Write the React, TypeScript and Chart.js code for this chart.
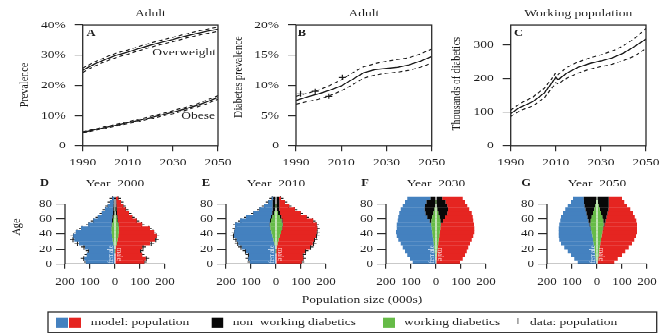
import React, { useEffect, useRef } from 'react';
import { Chart, registerables } from 'chart.js';

Chart.register(...registerables);

// ---------- data ----------
const years = [1990, 1995, 2000, 2005, 2010, 2015, 2020, 2025, 2030, 2035, 2040, 2045, 2050];
const overweight = [25.0, 27.0, 28.6, 30.0, 31.0, 32.2, 33.3, 34.3, 35.2, 36.2, 37.1, 37.9, 38.6];
const overweightHi = [25.7, 27.7, 29.3, 30.7, 31.7, 32.9, 34.0, 35.0, 35.9, 36.9, 37.8, 38.6, 39.3];
const overweightLo = [24.3, 26.3, 27.9, 29.3, 30.3, 31.5, 32.6, 33.6, 34.5, 35.5, 36.4, 37.2, 37.9];
const obese = [4.4, 5.2, 6.0, 6.8, 7.6, 8.4, 9.3, 10.2, 11.1, 12.1, 13.2, 14.5, 16.0];
const obeseHi = [4.6, 5.4, 6.3, 7.1, 7.9, 8.8, 9.7, 10.6, 11.6, 12.6, 13.7, 15.1, 16.6];
const obeseLo = [4.2, 5.0, 5.7, 6.5, 7.3, 8.0, 8.9, 9.8, 10.6, 11.6, 12.7, 13.9, 15.4];

const diabetes = [7.5, 8.1, 8.6, 9.2, 9.9, 11.0, 12.1, 12.6, 12.8, 13.0, 13.4, 14.0, 14.8];
const diabetesHi = [8.2, 8.7, 9.2, 10.0, 10.9, 12.1, 13.1, 13.6, 14.0, 14.3, 14.6, 15.2, 16.0];
const diabetesLo = [6.9, 7.3, 7.7, 8.3, 9.1, 10.1, 11.2, 11.7, 12.0, 12.2, 12.5, 13.0, 13.7];
const surveyYears = [1992, 1998.5, 2004.5, 2010.5];
const surveyPrevalence = [8.6, 9.0, 8.2, 11.3];

const yearsC = [1990, 1994, 2000, 2005, 2009, 2010, 2011, 2015, 2020, 2025, 2030, 2035, 2040, 2045, 2050];
const workers = [96, 114, 132, 158, 194, 204, 197, 217, 234, 245, 253, 262, 276, 296, 318];
const workersHi = [106, 125, 146, 172, 207, 218, 212, 234, 250, 262, 271, 282, 298, 320, 350];
const workersLo = [87, 104, 119, 144, 178, 188, 184, 202, 217, 228, 236, 243, 254, 268, 290];

const yearTicks = [1990, 2010, 2030, 2050];
const yearTickLabels = ['1990', '2010', '2030', '2050'];
const ticksA = [0, 10, 20, 30, 40];
const labelsA = ['0', '10%', '20%', '30%', '40%'];
const ticksB = [0, 5, 10, 15, 20];
const labelsB = ['0', '5%', '10%', '15%', '20%'];
const ticksC = [0, 100, 200, 300];
const labelsC = ['0', '100', '200', '300'];

const ageGroups = [2.5, 7.5, 12.5, 17.5, 22.5, 27.5, 32.5, 37.5, 42.5, 47.5, 52.5, 57.5, 62.5, 67.5, 72.5, 77.5, 82.5, 87.5];
const popTicks = [-200, -100, 0, 100, 200];
const popTickLabels = ['200', '100', '0', '100', '200'];
const ageTicks = [0, 20, 40, 60, 80];
const ageTickLabels = ['0', '20', '40', '60', '80'];

// Year 2000
const femaleTot2000 = [117, 123, 113, 104, 120, 144, 163, 167, 157, 136, 107, 87, 69, 53, 40, 29, 20, 11];
const maleTot2000 = [117, 123, 109, 100, 109, 140, 160, 167, 157, 140, 109, 87, 69, 56, 43, 33, 24, 13];
const femaleWork2000 = [0, 0, 0, 1, 3, 6, 9, 12, 13, 13, 11, 8, 5, 2, 0, 0, 0, 0];
const femaleNonWork2000 = [0, 0, 0, 0, 0, 0, 0, 0, 0, 1, 2, 4, 5, 6, 7, 6, 5, 4];
const maleWork2000 = [0, 0, 0, 1, 3, 7, 10, 13, 15, 15, 13, 9, 6, 3, 1, 0, 0, 0];
const maleNonWork2000 = [0, 0, 0, 0, 0, 0, 0, 0, 0, 1, 2, 3, 4, 5, 6, 6, 5, 4];
const femaleData2000 = [112, 125, 110, 105, 124, 150, 168, 166, 152, 132, 104, 85, 66, 50, 38, 27, 18, 10];
const maleData2000 = [115, 125, 106, 102, 112, 145, 163, 165, 152, 135, 106, 85, 67, 54, 42, 31, 22, 12];

// Year 2010
const femaleTot2010 = [104, 111, 108, 120, 137, 151, 157, 168, 167, 164, 164, 144, 120, 91, 67, 48, 31, 17];
const maleTot2010 = [103, 109, 107, 116, 136, 147, 152, 160, 163, 165, 163, 149, 123, 99, 76, 53, 36, 20];
const femaleWork2010 = [0, 0, 0, 1, 3, 6, 10, 14, 18, 22, 23, 20, 14, 7, 3, 1, 0, 0];
const femaleNonWork2010 = [0, 0, 0, 0, 0, 0, 0, 0, 0, 1, 2, 4, 6, 8, 10, 12, 13, 11];
const maleWork2010 = [0, 0, 0, 1, 3, 6, 10, 15, 20, 24, 26, 22, 15, 8, 3, 1, 0, 0];
const maleNonWork2010 = [0, 0, 0, 0, 0, 0, 0, 0, 0, 1, 2, 4, 6, 8, 10, 12, 13, 12];
const femaleData2010 = [102, 110, 110, 122, 140, 153, 160, 170, 165, 162, 160, 140, 116, 88, 64, 45, 29, 15];
const maleData2010 = [101, 108, 108, 118, 138, 150, 154, 162, 164, 163, 160, 146, 120, 96, 73, 50, 33, 18];

// Year 2030
const femaleTot2030 = [93, 104, 115, 124, 133, 141, 151, 157, 160, 157, 157, 153, 151, 147, 141, 133, 124, 115];
const maleTot2030 = [96, 107, 116, 123, 129, 136, 143, 149, 153, 153, 152, 149, 147, 143, 133, 125, 116, 107];
const femaleWork2030 = [2, 3, 4, 5, 7, 9, 11, 13, 15, 17, 19, 18, 15, 10, 6, 3, 1, 0];
const femaleNonWork2030 = [0, 0, 0, 0, 0, 0, 0, 0, 0, 0, 1, 7, 20, 32, 39, 41, 37, 22];
const maleWork2030 = [2, 3, 4, 5, 7, 9, 11, 13, 15, 17, 18, 17, 14, 9, 5, 3, 1, 0];
const maleNonWork2030 = [0, 0, 0, 0, 0, 0, 0, 0, 0, 0, 2, 11, 22, 36, 43, 42, 37, 25];

// Year 2050
const femaleTot2050 = [77, 91, 104, 117, 131, 144, 151, 153, 153, 153, 151, 147, 144, 136, 127, 117, 104, 96];
const maleTot2050 = [69, 83, 100, 113, 127, 140, 149, 156, 160, 160, 160, 157, 151, 144, 133, 120, 109, 100];
const femaleWork2050 = [3, 5, 7, 9, 11, 13, 16, 18, 21, 24, 26, 25, 21, 16, 11, 7, 4, 2];
const femaleNonWork2050 = [0, 0, 0, 0, 0, 0, 0, 0, 0, 1, 4, 9, 17, 26, 35, 43, 48, 51];
const maleWork2050 = [3, 5, 7, 9, 11, 13, 16, 18, 21, 24, 26, 25, 21, 16, 11, 7, 4, 2];
const maleNonWork2050 = [0, 0, 0, 0, 0, 0, 0, 0, 0, 1, 4, 9, 17, 26, 35, 40, 43, 45];

// ---------- styling ----------
const S = 0.78; // vertical squeeze of the reference picture
const PAGE_W = 670;
const PAGE_H = Math.round(336 / S);
const FONT = "'Liberation Serif', 'Times New Roman', Times, serif";
const INK = '#1c1c1c';
const BLUE = '#4481bf';
const RED = '#e52521';
const GREEN = '#66bb47';
const BLACK = '#080808';

Chart.defaults.font.family = FONT;
Chart.defaults.color = INK;

const yr = (v: number) => v / S;

type TextSpec = {
  t: string; x: number; y: number; size?: number; bold?: boolean;
  rot?: number; color?: string; align?: CanvasTextAlign; data?: boolean;
};
type RectSpec = { x: number; y: number; w: number; h: number; fill?: string; stroke?: string };

function makeDeco(spec: { box?: boolean; rAxes?: boolean; texts?: TextSpec[]; rects?: RectSpec[] }) {
  return {
    id: 'deco',
    afterDraw(chart: any) {
      const ctx: CanvasRenderingContext2D = chart.ctx;
      const ca = chart.chartArea;
      ctx.save();
      ctx.strokeStyle = '#2a2a2a';
      if (spec.box) {
        ctx.lineWidth = 1.3;
        ctx.strokeRect(ca.left, ca.top, ca.right - ca.left, ca.bottom - ca.top);
      }
      if (spec.rAxes) {
        const xs = chart.scales.x, ys = chart.scales.y;
        ctx.lineWidth = 1.3;
        ctx.beginPath();
        ctx.moveTo(xs.getPixelForValue(popTicks[0]), ca.bottom);
        ctx.lineTo(xs.getPixelForValue(popTicks[popTicks.length - 1]), ca.bottom);
        ctx.moveTo(ca.left, ys.getPixelForValue(ageTicks[0]));
        ctx.lineTo(ca.left, ys.getPixelForValue(ageTicks[ageTicks.length - 1]));
        ctx.stroke();
      }
      for (const r of spec.rects || []) {
        if (r.fill) { ctx.fillStyle = r.fill; ctx.fillRect(r.x, yr(r.y), r.w, yr(r.h)); }
        if (r.stroke) { ctx.strokeStyle = r.stroke; ctx.lineWidth = 1.3; ctx.strokeRect(r.x, yr(r.y), r.w, yr(r.h)); }
      }
      for (const t of spec.texts || []) {
        let x = t.x, y = yr(t.y);
        if (t.data) { x = chart.scales.x.getPixelForValue(t.x); y = chart.scales.y.getPixelForValue(t.y); }
        ctx.save();
        ctx.font = `${t.bold ? 'bold ' : 'normal '}${t.size || 13.5}px ${FONT}`;
        ctx.fillStyle = t.color || INK;
        ctx.textAlign = t.align || 'center';
        ctx.textBaseline = 'middle';
        if (t.rot) {
          ctx.translate(x, y);
          ctx.rotate(t.rot);
          ctx.fillText(t.t, 0, 0);
        } else {
          ctx.fillText(t.t, x, y);
        }
        ctx.restore();
      }
      ctx.restore();
    },
  };
}

const pts = (xs: number[], ys: number[]) => xs.map((x, i) => ({ x, y: ys[i] }));
const solid = (label: string, xs: number[], ys: number[]) => ({
  label, data: pts(xs, ys), showLine: true, borderColor: INK, borderWidth: 1.4, pointRadius: 0, fill: false,
});
const dashed = (label: string, xs: number[], ys: number[]) => ({
  label, data: pts(xs, ys), showLine: true, borderColor: INK, borderWidth: 1.2, borderDash: [4, 3], pointRadius: 0, fill: false,
});

function linePanel(p: {
  left: number; right: number; yMax: number; yTicks: number[]; yLabels: string[]; datasets: any[]; texts: TextSpec[];
}) {
  const WY = 45, HX = 40;
  const top = yr(25), bottom = yr(145.7);
  return {
    type: 'scatter',
    data: { datasets: p.datasets },
    options: {
      responsive: false, animation: false, devicePixelRatio: 1,
      layout: { padding: { left: p.left - WY, right: PAGE_W - p.right, top, bottom: PAGE_H - bottom - HX } },
      plugins: { legend: { display: false }, tooltip: { enabled: false } },
      scales: {
        x: {
          type: 'linear', min: yearTicks[0], max: yearTicks[yearTicks.length - 1], offset: false,
          afterFit: (s: any) => { s.height = HX; },
          afterBuildTicks: (s: any) => { s.ticks = yearTicks.map((v) => ({ value: v })); },
          ticks: {
            font: { size: 13.5, family: FONT }, color: INK, padding: 6.5, maxRotation: 0, autoSkip: false,
            callback: (v: number) => { const i = yearTicks.indexOf(v); return i >= 0 ? yearTickLabels[i] : ''; },
          },
          grid: { drawOnChartArea: false, drawTicks: true, tickLength: 7.5, color: '#2a2a2a', lineWidth: 1.2, offset: false },
          border: { display: false },
        },
        y: {
          type: 'linear', min: 0, max: p.yMax, offset: false,
          afterFit: (s: any) => { s.width = WY; },
          afterBuildTicks: (s: any) => { s.ticks = p.yTicks.map((v) => ({ value: v })); },
          ticks: {
            font: { size: 13.5, family: FONT }, color: INK, padding: 9, autoSkip: false,
            callback: (v: number) => { const i = p.yTicks.indexOf(v); return i >= 0 ? p.yLabels[i] : ''; },
          },
          grid: { drawOnChartArea: false, drawTicks: true, tickLength: 8, color: '#2a2a2a', lineWidth: 1.2 },
          border: { display: false },
        },
      },
    },
    plugins: [makeDeco({ box: true, texts: p.texts })],
  };
}

function pyramidPanel(p: {
  left: number; right: number;
  fTot: number[]; fG: number[]; fB: number[]; mTot: number[]; mG: number[]; mB: number[];
  fData?: number[]; mData?: number[]; texts: TextSpec[]; rects?: RectSpec[];
}) {
  const WY = 40, HX = 40;
  const top = yr(195), bottom = yr(264);
  const bar = (label: string, vals: number[], color: string) => ({
    type: 'bar', label, indexAxis: 'y', stack: 'pop',
    data: ageGroups.map((a, i) => ({ x: vals[i], y: a })),
    backgroundColor: color, borderWidth: 0, barPercentage: 1.08, categoryPercentage: 1,
  });
  const datasets: any[] = [
    bar('female working diabetics', p.fG.map((v) => -v), GREEN),
    bar('female non working diabetics', p.fB.map((v) => -v), BLACK),
    bar('female population', p.fTot.map((v, i) => -(v - p.fG[i] - p.fB[i])), BLUE),
    bar('male working diabetics', p.mG, GREEN),
    bar('male non working diabetics', p.mB, BLACK),
    bar('male population', p.mTot.map((v, i) => v - p.mG[i] - p.mB[i]), RED),
  ];
  const cross = (label: string, vals: number[]) => ({
    type: 'scatter', label, data: ageGroups.map((a, i) => ({ x: vals[i], y: a })),
    showLine: false, pointStyle: 'cross', pointRadius: 3, borderColor: INK, backgroundColor: INK, borderWidth: 1.1,
  });
  if (p.fData && p.mData) {
    datasets.push(cross('data: population female', p.fData.map((v) => -v)));
    datasets.push(cross('data: population male', p.mData));
  }
  return {
    type: 'bar',
    data: { datasets },
    options: {
      responsive: false, animation: false, devicePixelRatio: 1,
      layout: { padding: { left: p.left - WY, right: PAGE_W - p.right, top, bottom: PAGE_H - bottom - HX } },
      plugins: { legend: { display: false }, tooltip: { enabled: false } },
      scales: {
        x: {
          type: 'linear', min: popTicks[0], max: popTicks[popTicks.length - 1], stacked: true, offset: false,
          afterFit: (s: any) => { s.height = HX; },
          afterBuildTicks: (s: any) => { s.ticks = popTicks.map((v) => ({ value: v })); },
          ticks: {
            font: { size: 13, family: FONT }, color: INK, padding: 8.5, maxRotation: 0, autoSkip: false,
            callback: (v: number) => { const i = popTicks.indexOf(v); return i >= 0 ? popTickLabels[i] : ''; },
          },
          grid: { drawOnChartArea: false, drawTicks: true, tickLength: 6.4, color: '#2a2a2a', lineWidth: 1.2, offset: false },
          border: { display: false },
        },
        y: {
          type: 'linear', min: 0, max: 92, offset: false,
          afterFit: (s: any) => { s.width = WY; },
          afterBuildTicks: (s: any) => { s.ticks = ageTicks.map((v) => ({ value: v })); },
          ticks: {
            font: { size: 13, family: FONT }, color: INK, padding: 4, autoSkip: false,
            callback: (v: number) => { const i = ageTicks.indexOf(v); return i >= 0 ? ageTickLabels[i] : ''; },
          },
          grid: { drawOnChartArea: false, drawTicks: true, tickLength: 9, color: '#2a2a2a', lineWidth: 1.2, offset: false },
          border: { display: false },
        },
      },
    },
    plugins: [makeDeco({ rAxes: true, texts: p.texts, rects: p.rects })],
  };
}

const sexLabels = (): TextSpec[] => [
  { t: 'female', x: -17, y: 13, data: true, rot: -Math.PI / 2, size: 8.5, color: '#d6e6f6' },
  { t: 'male', x: 16, y: 13, data: true, rot: Math.PI / 2, size: 8.5, color: '#fcd2d2' },
];

const configs = [
  () => linePanel({
    left: 82.7, right: 218, yMax: 40, yTicks: ticksA, yLabels: labelsA,
    datasets: [
      dashed('overweight upper', years, overweightHi), solid('Overweight', years, overweight), dashed('overweight lower', years, overweightLo),
      dashed('obese upper', years, obeseHi), solid('Obese', years, obese), dashed('obese lower', years, obeseLo),
    ],
    texts: [
      { t: 'Adult', x: 150.3, y: 14 },
      { t: 'A', x: 91, y: 33.5, bold: true, size: 12.5 },
      { t: 'Overweight', x: 216, y: 52.7, align: 'right' },
      { t: 'Obese', x: 215, y: 116, align: 'right' },
      { t: 'Prevalence', x: 25, y: 85, rot: -Math.PI / 2, size: 13 },
    ],
  }),
  () => linePanel({
    left: 296, right: 431.7, yMax: 20, yTicks: ticksB, yLabels: labelsB,
    datasets: [
      dashed('upper', years, diabetesHi), solid('Diabetes prevalence', years, diabetes), dashed('lower', years, diabetesLo),
      { label: 'survey', data: pts(surveyYears, surveyPrevalence), showLine: false, pointStyle: 'cross', pointRadius: 3.5, borderColor: INK, borderWidth: 1.2 },
    ],
    texts: [
      { t: 'Adult', x: 364, y: 14 },
      { t: 'B', x: 302, y: 33.5, bold: true, size: 12.5 },
      { t: 'Diabetes prevalence', x: 238.5, y: 77, rot: -Math.PI / 2, size: 13 },
    ],
  }),
  () => linePanel({
    left: 510.7, right: 646, yMax: 360, yTicks: ticksC, yLabels: labelsC,
    datasets: [
      dashed('upper', yearsC, workersHi), solid('Thousands of diabetics', yearsC, workers), dashed('lower', yearsC, workersLo),
    ],
    texts: [
      { t: 'Working population', x: 578.3, y: 14 },
      { t: 'C', x: 518.5, y: 33.5, bold: true, size: 12.5 },
      { t: 'Thousands of diabetics', x: 457, y: 84, rot: -Math.PI / 2, size: 13 },
    ],
  }),
  () => pyramidPanel({
    left: 65, right: 165,
    fTot: femaleTot2000, fG: femaleWork2000, fB: femaleNonWork2000,
    mTot: maleTot2000, mG: maleWork2000, mB: maleNonWork2000,
    fData: femaleData2000, mData: maleData2000,
    texts: [
      { t: 'D', x: 44.5, y: 183.3, bold: true, size: 12.5 },
      { t: 'Year  2000', x: 115, y: 183.3 },
      { t: 'Age', x: 17, y: 227, rot: -Math.PI / 2, size: 13 },
      ...sexLabels(),
      { t: 'Population size (000s)', x: 362, y: 300 },
      { t: 'model: population', x: 90.7, y: 322.5, align: 'left' },
      { t: 'non  working diabetics', x: 232.7, y: 322.5, align: 'left' },
      { t: 'working diabetics', x: 404, y: 322.5, align: 'left' },
      { t: '+', x: 518, y: 322, size: 14 },
      { t: 'data: population', x: 530, y: 322.5, align: 'left' },
    ],
    rects: [
      { x: 48, y: 312, w: 608.7, h: 20.5, stroke: '#2a2a2a' },
      { x: 56, y: 318, w: 12, h: 9.5, fill: BLUE },
      { x: 69, y: 318, w: 12, h: 9.5, fill: RED },
      { x: 211.7, y: 318, w: 11.5, h: 9.5, fill: BLACK },
      { x: 383, y: 318, w: 12, h: 9.5, fill: GREEN },
    ],
  }),
  () => pyramidPanel({
    left: 226, right: 326,
    fTot: femaleTot2010, fG: femaleWork2010, fB: femaleNonWork2010,
    mTot: maleTot2010, mG: maleWork2010, mB: maleNonWork2010,
    fData: femaleData2010, mData: maleData2010,
    texts: [
      { t: 'E', x: 206, y: 183.3, bold: true, size: 12.5 },
      { t: 'Year  2010', x: 276, y: 183.3 },
      ...sexLabels(),
    ],
  }),
  () => pyramidPanel({
    left: 386, right: 486,
    fTot: femaleTot2030, fG: femaleWork2030, fB: femaleNonWork2030,
    mTot: maleTot2030, mG: maleWork2030, mB: maleNonWork2030,
    texts: [
      { t: 'F', x: 365, y: 183.3, bold: true, size: 12.5 },
      { t: 'Year  2030', x: 436, y: 183.3 },
      ...sexLabels(),
    ],
  }),
  () => pyramidPanel({
    left: 547, right: 647,
    fTot: femaleTot2050, fG: femaleWork2050, fB: femaleNonWork2050,
    mTot: maleTot2050, mG: maleWork2050, mB: maleNonWork2050,
    texts: [
      { t: 'G', x: 526, y: 183.3, bold: true, size: 12.5 },
      { t: 'Year  2050', x: 597, y: 183.3 },
      ...sexLabels(),
    ],
  }),
];

function Layer({ make }: { make: () => any }) {
  const ref = useRef<HTMLCanvasElement>(null);
  useEffect(() => {
    const chart = new Chart(ref.current as HTMLCanvasElement, make());
    return () => chart.destroy();
  }, [make]);
  return (
    <canvas
      ref={ref}
      width={PAGE_W}
      height={PAGE_H}
      style={{ position: 'absolute', left: 0, top: 0, width: PAGE_W, height: PAGE_H }}
    />
  );
}

export default function App() {
  return (
    <div style={{ position: 'fixed', left: 0, top: 0, width: PAGE_W, height: 336, overflow: 'hidden', background: '#fff' }}>
      <div style={{ position: 'absolute', left: 0, top: 0, width: PAGE_W, height: PAGE_H, transform: `scaleY(${S})`, transformOrigin: '0 0' }}>
        {configs.map((make, i) => (
          <Layer key={i} make={make} />
        ))}
      </div>
    </div>
  );
}
